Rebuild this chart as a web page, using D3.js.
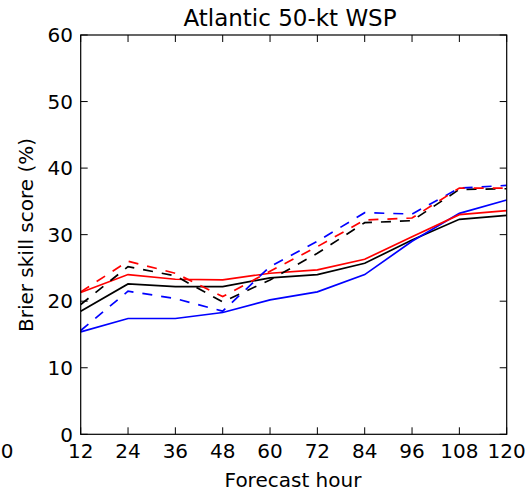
<!DOCTYPE html>
<meta charset="utf-8">
<style>
body { margin: 0; background: #fff; }
text { font-family: "DejaVu Sans", sans-serif; fill: #000; }
.tick-label { font-size: 20px; }
</style>
<svg id="chart" width="526" height="493"></svg>
<script src="https://cdn.jsdelivr.net/npm/d3@7"></script>
<script>

var hours = [12, 24, 36, 48, 60, 72, 84, 96, 108, 120];
var yTicks = [0, 10, 20, 30, 40, 50, 60];

var redSolid   = [21.3, 24.0, 23.3, 23.2, 24.2, 24.7, 26.3, 29.7, 33.0, 33.6];
var blackSolid = [18.5, 22.6, 22.2, 22.2, 23.5, 24.0, 25.7, 29.2, 32.3, 32.9];
var blueSolid  = [15.4, 17.4, 17.4, 18.3, 20.2, 21.4, 24.0, 29.0, 33.2, 35.2];
var redDash    = [21.4, 26.0, 24.2, 20.7, 24.5, 28.2, 32.2, 32.5, 37.0, 37.0];
var blackDash  = [19.5, 25.2, 23.8, 19.9, 23.2, 27.2, 31.8, 32.1, 36.8, 36.9];
var blueDash   = [15.6, 21.5, 20.4, 18.5, 25.2, 29.0, 33.3, 33.1, 37.0, 37.4];

var series = [
  {values: blackSolid, color: "#000", dash: null},
  {values: blueSolid,  color: "#0000ff", dash: null},
  {values: redSolid,   color: "#ff0000", dash: null},
  {values: blackDash,  color: "#000", dash: "10,9"},
  {values: blueDash,   color: "#0000ff", dash: "10,9"},
  {values: redDash,    color: "#ff0000", dash: "10,9"}
];

var svg = d3.select("#chart"),
    plotL = 80.7, plotR = 506.7, plotT = 35, plotB = 434.3;

var x = d3.scaleLinear().domain([12, 120]).range([plotL, plotR]);
var y = d3.scaleLinear().domain([0, 60]).range([plotB, plotT]);

var line = d3.line()
    .x(function(d, i) { return x(hours[i]); })
    .y(function(d) { return y(d); });

// data lines
series.forEach(function(s) {
  svg.append("path")
      .datum(s.values)
      .attr("d", line)
      .attr("fill", "none")
      .attr("stroke", s.color)
      .attr("stroke-width", 1.7)
      .attr("stroke-dasharray", s.dash);
});

// inward ticks on all four sides
var tk = 7;
hours.forEach(function(h) {
  svg.append("line").attr("x1", x(h)).attr("x2", x(h)).attr("y1", plotB).attr("y2", plotB - tk)
      .attr("stroke", "#000");
  svg.append("line").attr("x1", x(h)).attr("x2", x(h)).attr("y1", plotT).attr("y2", plotT + tk)
      .attr("stroke", "#000");
  svg.append("text").attr("class", "tick-label")
      .attr("x", x(h)).attr("y", 458)
      .attr("text-anchor", "middle")
      .text(h);
});
yTicks.forEach(function(v) {
  svg.append("line").attr("x1", plotL).attr("x2", plotL + tk).attr("y1", y(v)).attr("y2", y(v))
      .attr("stroke", "#000");
  svg.append("line").attr("x1", plotR).attr("x2", plotR - tk).attr("y1", y(v)).attr("y2", y(v))
      .attr("stroke", "#000");
  svg.append("text").attr("class", "tick-label")
      .attr("x", 73).attr("y", y(v))
      .attr("dy", "0.36em")
      .attr("text-anchor", "end")
      .text(v);
});

// stray label at far left
svg.append("text").attr("class", "tick-label")
    .attr("x", 7).attr("y", 458)
    .attr("text-anchor", "middle")
    .text("0");

// frame
svg.append("rect")
    .attr("x", plotL).attr("y", plotT)
    .attr("width", plotR - plotL).attr("height", plotB - plotT)
    .attr("fill", "none")
    .attr("stroke", "#000")
    .attr("stroke-width", 1.2);

svg.append("text")
    .attr("x", 290).attr("y", 26)
    .attr("text-anchor", "middle")
    .style("font-size", "23px")
    .text("Atlantic 50-kt WSP");

svg.append("text")
    .attr("x", 293).attr("y", 487)
    .attr("text-anchor", "middle")
    .style("font-size", "20px")
    .text("Forecast hour");

svg.append("text")
    .attr("transform", "translate(33,235) rotate(-90)")
    .attr("text-anchor", "middle")
    .style("font-size", "20px")
    .text("Brier skill score (%)");

</script>
